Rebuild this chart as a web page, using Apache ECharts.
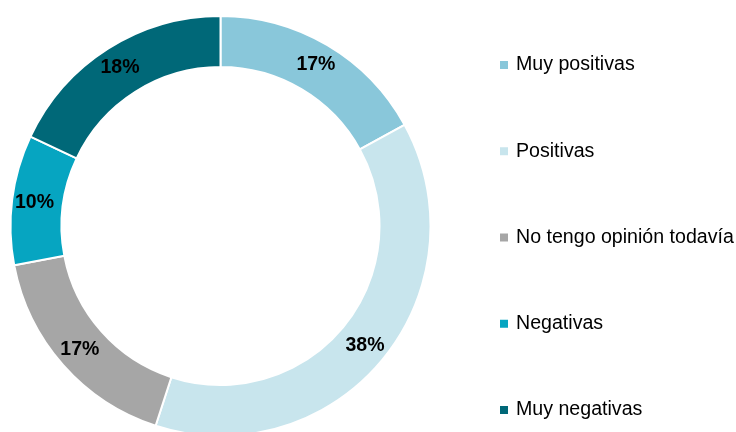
<!DOCTYPE html>
<html>
<head>
<meta charset="utf-8">
<script src="https://cdn.jsdelivr.net/npm/echarts@6/dist/echarts.min.js"></script>
<style>
  html, body { margin: 0; padding: 0; background: #fff; }
  #main { width: 736px; height: 432px; }
</style>
</head>
<body>
<div id="main"></div>
<script>
const categories = ['Muy positivas', 'Positivas', 'No tengo opinión todavía', 'Negativas', 'Muy negativas']
const values = [17, 38, 17, 10, 18]
const colors = ['#89c7da', '#c8e5ed', '#a6a6a6', '#06a5c1', '#006878']

const font = '"Liberation Sans", Arial, sans-serif'

const chart = echarts.init(document.getElementById('main'))
chart.setOption({
  animation: false,
  color: colors,
  legend: {
    orient: 'vertical',
    left: 498,
    top: 55,
    padding: 0,
    itemWidth: 10,
    itemHeight: 10,
    itemGap: 66.25,
    icon: 'rect',
    textStyle: { fontFamily: font, fontSize: 19.6, lineHeight: 20, color: '#000', padding: [0, 0, 0, 2] },
    data: categories
  },
  series: [
    {
      type: 'pie',
      center: [220.5, 226],
      radius: [159, 210],
      startAngle: 90,
      clockwise: true,
      avoidLabelOverlap: false,
      itemStyle: { borderColor: '#fff', borderWidth: 2 },
      label: {
        show: true,
        position: 'inside',
        formatter: '{c}%',
        fontFamily: font,
        fontWeight: 'bold',
        fontSize: 19.5,
        color: '#000'
      },
      labelLine: { show: false },
      emphasis: { disabled: true },
      data: categories.map((name, i) => ({ name: name, value: values[i] }))
    }
  ]
})
</script>
</body>
</html>
